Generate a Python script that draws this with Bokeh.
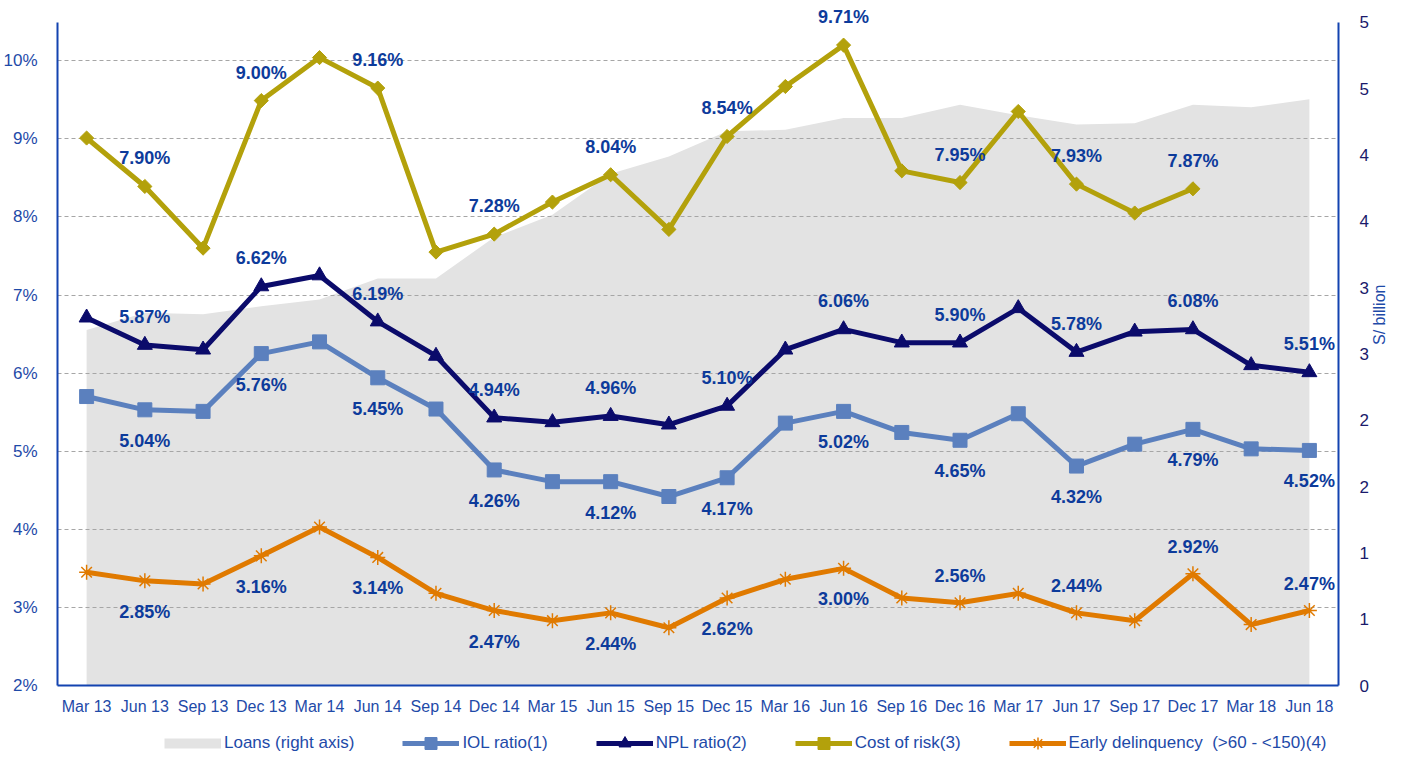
import math
from bokeh.plotting import figure
from bokeh.layouts import column
from bokeh.models import (ColumnDataSource, Range1d, LinearAxis, FixedTicker,
                          Legend, LegendItem, LabelSet, FactorRange,
                          CustomJSTickFormatter)
from bokeh.embed import file_html
from bokeh.resources import INLINE
from bokeh.core.properties import value

quarters = ["Mar 13", "Jun 13", "Sep 13", "Dec 13", "Mar 14", "Jun 14", "Sep 14",
            "Dec 14", "Mar 15", "Jun 15", "Sep 15", "Dec 15", "Mar 16", "Jun 16",
            "Sep 16", "Dec 16", "Mar 17", "Jun 17", "Sep 17", "Dec 17", "Mar 18", "Jun 18"]

loans = [2.68, 2.81, 2.80, 2.86, 2.91, 3.07, 3.07, 3.38, 3.55, 3.86, 3.99, 4.18,
         4.19, 4.28, 4.28, 4.38, 4.30, 4.23, 4.24, 4.38, 4.36, 4.42]
iol_ratio = [5.70, 5.53, 5.51, 6.25, 6.40, 5.94, 5.54, 4.76, 4.61, 4.61, 4.42, 4.66,
             5.36, 5.51, 5.24, 5.14, 5.48, 4.81, 5.09, 5.28, 5.03, 5.01]
npl_ratio = [6.71, 6.36, 6.30, 7.11, 7.25, 6.66, 6.22, 5.43, 5.37, 5.45, 5.34, 5.58,
             6.30, 6.56, 6.39, 6.39, 6.83, 6.27, 6.53, 6.56, 6.10, 6.01]
cost_of_risk = [9.01, 8.39, 7.60, 9.49, 10.04, 9.65, 7.55, 7.78, 8.19, 8.54, 7.84, 9.03,
                9.67, 10.20, 8.59, 8.44, 9.35, 8.42, 8.05, 8.36, float("nan"), float("nan")]
early_delinquency = [3.45, 3.34, 3.30, 3.66, 4.03, 3.64, 3.18, 2.96, 2.83, 2.93, 2.74, 3.12,
                     3.36, 3.50, 3.12, 3.06, 3.18, 2.93, 2.83, 3.43, 2.78, 2.96]

labelled_quarters = ["Jun 13", "Dec 13", "Jun 14", "Dec 14", "Jun 15", "Dec 15",
                     "Jun 16", "Dec 16", "Jun 17", "Dec 17", "Jun 18"]
iol_labels = ["5.04%", "5.76%", "5.45%", "4.26%", "4.12%", "4.17%", "5.02%", "4.65%",
              "4.32%", "4.79%", "4.52%"]
npl_labels = ["5.87%", "6.62%", "6.19%", "4.94%", "4.96%", "5.10%", "6.06%", "5.90%",
              "5.78%", "6.08%", "5.51%"]
cost_labels = ["7.90%", "9.00%", "9.16%", "7.28%", "8.04%", "8.54%", "9.71%", "7.95%",
               "7.93%", "7.87%"]
early_labels = ["2.85%", "3.16%", "3.14%", "2.47%", "2.44%", "2.62%", "3.00%", "2.56%",
                "2.44%", "2.92%", "2.47%"]

left_ticks = [2, 3, 4, 5, 6, 7, 8, 9, 10]
left_tick_labels = ["2%", "3%", "4%", "5%", "6%", "7%", "8%", "9%", "10%"]
right_ticks = [0, 0.5, 1, 1.5, 2, 2.5, 3, 3.5, 4, 4.5, 5]
right_tick_labels = ["0", "1", "1", "2", "2", "3", "3", "4", "4", "5", "5"]

FONT = "Liberation Sans"
AXIS_BLUE = "#1343B0"
TEXT_BLUE = "#1E4AA8"
LABEL_BLUE = "#0D3B9B"
NAVY_TXT = "#1A1A6B"
OLIVE = "#B3A10B"
NAVY = "#0B0B6B"
STEEL = "#5B80BE"
ORANGE = "#E07A00"
AREA = "#E3E3E3"

LEFT_MIN, LEFT_MAX = 2, 10.49
RIGHT_MIN, RIGHT_MAX = 0, 5
TOP_PAD = 0.23

LOOKUP = "const i = tks.indexOf(tick); return i >= 0 ? lbls[i] : '';"

p = figure(x_range=FactorRange(*quarters),
           y_range=Range1d(LEFT_MIN, LEFT_MAX + TOP_PAD),
           width=1399, height=717, output_backend="svg", toolbar_location=None,
           min_border_left=49, min_border_right=53, min_border_top=4,
           min_border_bottom=30)
p.outline_line_color = None
p.background_fill_color = "white"
scale = (RIGHT_MAX - RIGHT_MIN) / (LEFT_MAX - LEFT_MIN)
p.extra_y_ranges = {"loans": Range1d(RIGHT_MIN, RIGHT_MAX + TOP_PAD * scale)}

src = ColumnDataSource(dict(q=quarters, loans=loans, iol=iol_ratio, npl=npl_ratio,
                            cost=cost_of_risk, early=early_delinquency,
                            blank=[float("nan")] * len(quarters)))

p.varea(x="q", y1=0, y2="loans", source=src, y_range_name="loans",
        fill_color=AREA, level="image")

p.line("q", "iol", source=src, line_color=STEEL, line_width=5)
p.scatter("q", "iol", source=src, marker="square", size=14,
          fill_color=STEEL, line_color=STEEL)
p.line("q", "npl", source=src, line_color=NAVY, line_width=5)
p.scatter("q", "npl", source=src, marker="triangle", size=15,
          fill_color=NAVY, line_color=NAVY)
p.line("q", "cost", source=src, line_color=OLIVE, line_width=5)
p.scatter("q", "cost", source=src, marker="square", angle=0.785398, size=10,
          fill_color=OLIVE, line_color=OLIVE)
p.line("q", "early", source=src, line_color=ORANGE, line_width=5)
p.scatter("q", "early", source=src, marker="asterisk", size=15,
          line_color=ORANGE, line_width=1.5)

p.xgrid.visible = False
p.ygrid.ticker = FixedTicker(ticks=left_ticks)
p.ygrid.grid_line_color = "#A6A6A6"
p.ygrid.grid_line_dash = "4 3"
p.ygrid.grid_line_width = 1

ya = p.yaxis[0]
ya.bounds = (LEFT_MIN, LEFT_MAX)
ya.ticker = FixedTicker(ticks=left_ticks)
ya.formatter = CustomJSTickFormatter(args=dict(tks=left_ticks, lbls=left_tick_labels),
                                     code=LOOKUP)
ya.axis_line_color = AXIS_BLUE
ya.axis_line_width = 2
ya.major_tick_line_color = None
ya.minor_tick_line_color = None
ya.major_label_standoff = 14
ya.major_label_text_font = FONT
ya.major_label_text_font_size = "17px"
ya.major_label_text_color = TEXT_BLUE

xa = p.xaxis[0]
xa.axis_line_color = AXIS_BLUE
xa.axis_line_width = 2
xa.major_tick_line_color = None
xa.minor_tick_line_color = None
xa.major_label_standoff = 6
xa.major_label_text_font = FONT
xa.major_label_text_font_size = "16px"
xa.major_label_text_color = TEXT_BLUE

ra = LinearAxis(y_range_name="loans", ticker=FixedTicker(ticks=right_ticks),
                bounds=(RIGHT_MIN, RIGHT_MAX))
ra.formatter = CustomJSTickFormatter(args=dict(tks=right_ticks, lbls=right_tick_labels),
                                     code=LOOKUP)
ra.axis_line_color = AXIS_BLUE
ra.axis_line_width = 2
ra.major_tick_line_color = None
ra.minor_tick_line_color = None
ra.major_label_standoff = 15
ra.major_label_text_font = FONT
ra.major_label_text_font_size = "17px"
ra.major_label_text_color = NAVY_TXT
ra.axis_label = "S/ billion"
ra.axis_label_text_font = FONT
ra.axis_label_text_font_style = "normal"
ra.axis_label_text_font_size = "16px"
ra.axis_label_text_color = TEXT_BLUE
ra.axis_label_standoff = 8
ra.axis_label_orientation = math.pi / 2
p.add_layout(ra, "right")

idx = {q: i for i, q in enumerate(quarters)}


def add_labels(labels, series, offsets):
    qs = labelled_quarters[:len(labels)]
    ys = [series[idx[q]] for q in qs]
    s = ColumnDataSource(dict(x=qs, y=ys, t=labels, dy=offsets[:len(labels)]))
    p.add_layout(LabelSet(x="x", y="y", text="t", source=s, y_offset="dy",
                          text_align="center", text_baseline="middle",
                          text_font=value(FONT), text_font_style="bold",
                          text_font_size="18px", text_color=LABEL_BLUE))


n = len(labelled_quarters)
add_labels(cost_labels, cost_of_risk, [28] * n)
add_labels(npl_labels, npl_ratio, [28] * n)
add_labels(iol_labels, iol_ratio, [-31] * n)
add_labels(early_labels, early_delinquency, [-31] * 7 + [27] * (n - 7))

# legend strip (separate figure with legend-only renderers)
lg = figure(x_range=FactorRange(*quarters), y_range=Range1d(0, 1),
            width=1399, height=36, output_backend="svg", toolbar_location=None,
            x_axis_location=None, y_axis_location=None, min_border=0)
lg.outline_line_color = None
lg.grid.visible = False
r_loans = lg.line("q", "blank", source=src, line_color=AREA, line_width=10)
r_iol = [lg.line("q", "blank", source=src, line_color=STEEL, line_width=5),
         lg.scatter("q", "blank", source=src, marker="square", fill_color=STEEL,
                    line_color=STEEL)]
r_npl = [lg.line("q", "blank", source=src, line_color=NAVY, line_width=5),
         lg.scatter("q", "blank", source=src, marker="triangle", fill_color=NAVY,
                    line_color=NAVY)]
r_cost = [lg.line("q", "blank", source=src, line_color=OLIVE, line_width=5),
          lg.scatter("q", "blank", source=src, marker="square", angle=0.785398,
                     fill_color=OLIVE, line_color=OLIVE)]
r_early = [lg.line("q", "blank", source=src, line_color=ORANGE, line_width=5),
           lg.scatter("q", "blank", source=src, marker="asterisk", line_color=ORANGE,
                      line_width=1.5)]

legend = Legend(items=[
    LegendItem(label="Loans (right axis)", renderers=[r_loans]),
    LegendItem(label="IOL ratio(1)", renderers=r_iol),
    LegendItem(label="NPL ratio(2)", renderers=r_npl),
    LegendItem(label="Cost of risk(3)", renderers=r_cost),
    LegendItem(label="Early delinquency  (>60 - <150)(4)", renderers=r_early),
], orientation="horizontal", location=(107, -5), glyph_width=57, glyph_height=30,
    label_standoff=3, spacing=48, padding=0, margin=0,
    border_line_color=None, background_fill_alpha=0,
    label_text_font=FONT, label_text_font_size="17px", label_text_color=TEXT_BLUE)
lg.add_layout(legend)

layout = column(p, lg)
open("out.html", "w").write(file_html(layout, INLINE))
